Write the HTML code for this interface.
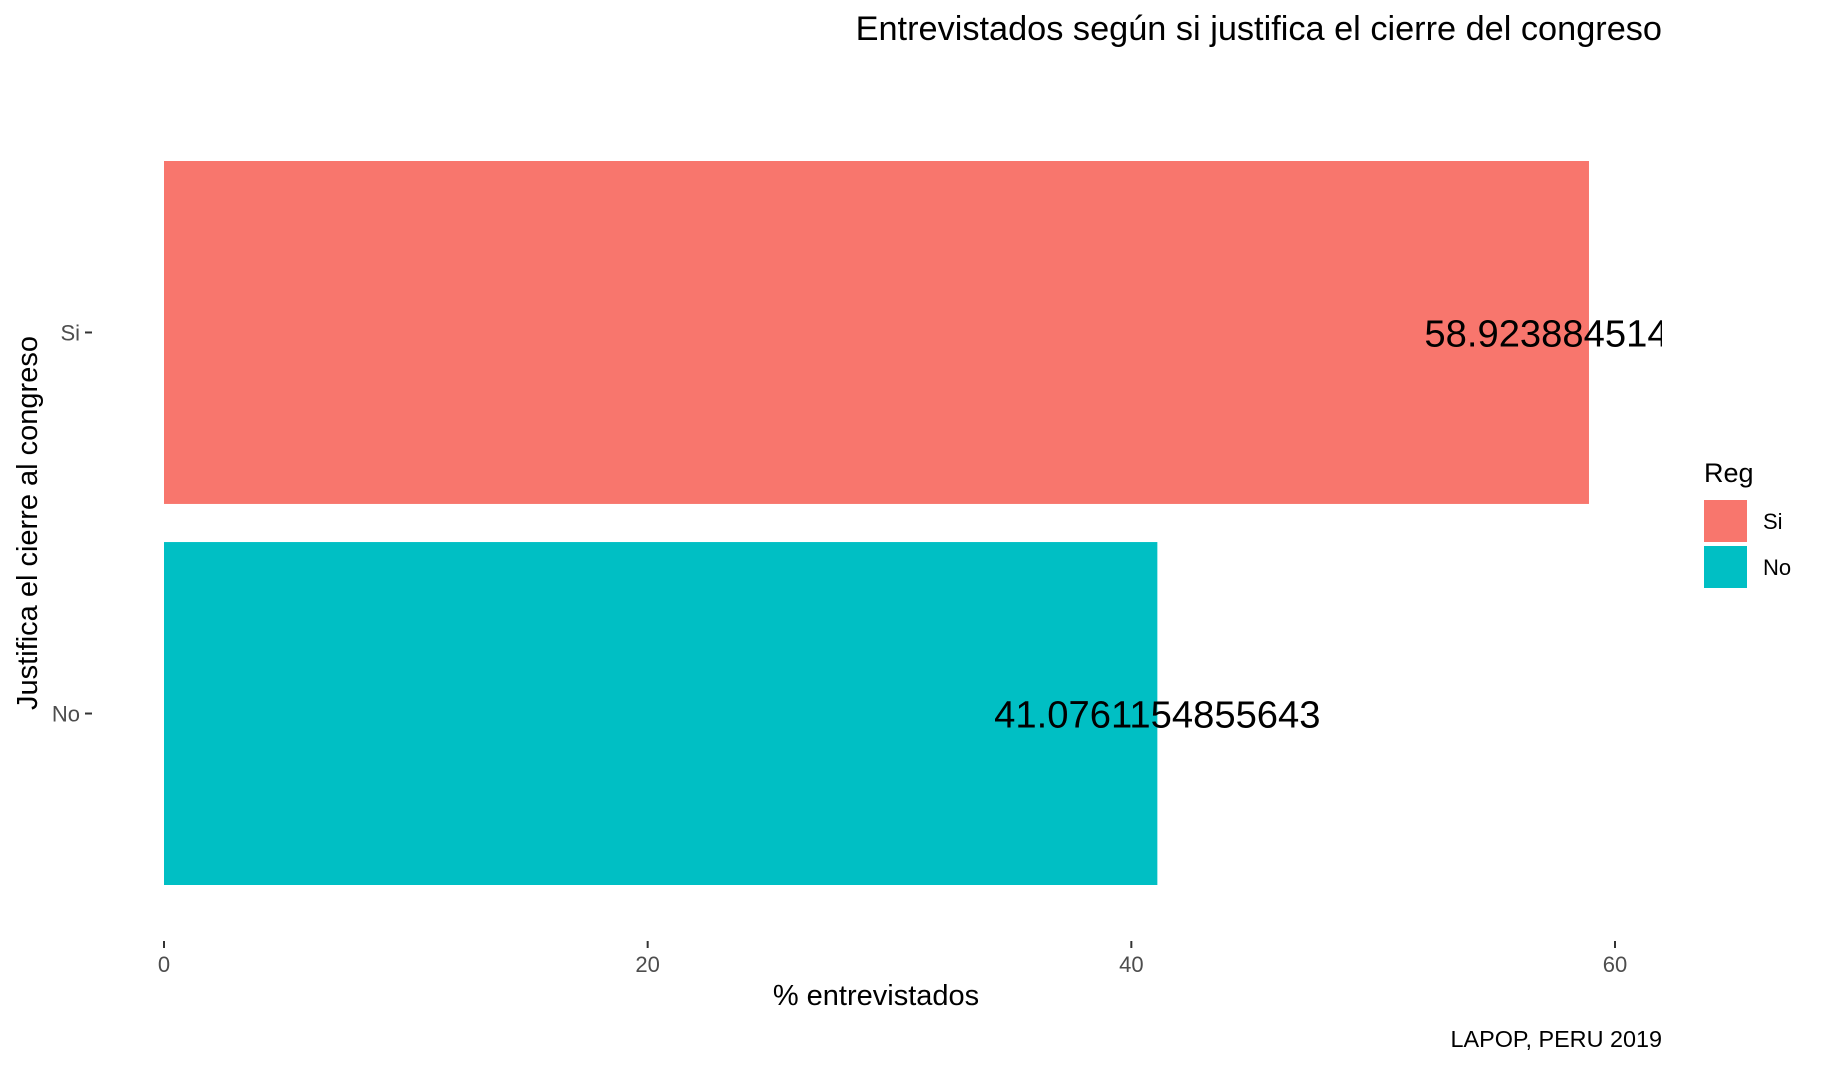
<!DOCTYPE html>
<html><head><meta charset="utf-8"><style>
html,body{margin:0;padding:0;background:#fff;}
svg{display:block;font-family:"Liberation Sans",Arial,sans-serif;}
</style></head><body>
<svg id="chart" width="1824" height="1065" viewBox="0 0 1824 1065" xmlns="http://www.w3.org/2000/svg">
<defs><clipPath id="panel-clip"><rect x="120" y="100" width="1542" height="850"/></clipPath></defs>
<text x="1662" y="40" text-anchor="end" font-size="34.3" fill="#000">Entrevistados según si justifica el cierre del congreso</text>
<g id="bars" clip-path="url(#panel-clip)"></g>
<g id="yaxis"></g>
<g id="xaxis"></g>
<text x="876" y="1005" text-anchor="middle" font-size="29" fill="#000">% entrevistados</text>
<text transform="translate(37,523) rotate(-90)" text-anchor="middle" font-size="29" fill="#000">Justifica el cierre al congreso</text>
<text x="1662" y="1047" text-anchor="end" font-size="23.4" fill="#000">LAPOP, PERU 2019</text>
<g id="legend">
<text x="1704" y="482" font-size="27" fill="#000">Reg</text>
</g>
</svg>
<script>
const categories = ["Si", "No"];
const values = [58.9238845144357, 41.0761154855643];
const labels = ["58.9238845144357", "41.0761154855643"];
const colors = ["#F8766D", "#00BFC4"];
const xTicks = [0, 20, 40, 60];

const NS = "http://www.w3.org/2000/svg";
const x0 = 164, xPerUnit = (1615 - 164) / 60;
function xScale(v){ return x0 + v * xPerUnit; }
const yTop = 161, yBottom = 885, bandCount = categories.length;
const step = (yBottom - yTop) / (bandCount - 0.1);
function yCenter(i){ return yTop + step * 0.45 + i * step; }
const barH = step * 0.9;

function mk(tag, attrs){ const e = document.createElementNS(NS, tag); for (const k in attrs) e.setAttribute(k, attrs[k]); return e; }

const gb = document.getElementById('bars');
categories.forEach((c, i) => {
  const r = mk('rect', {x: xScale(0), y: yCenter(i) - barH/2, width: xScale(values[i]) - xScale(0), height: barH, fill: colors[i]});
  
  
  gb.appendChild(r);
});
categories.forEach((c, i) => {
  const t = mk('text', {x: xScale(values[i]), y: yCenter(i) + 14, 'text-anchor': 'middle', 'font-size': 38.2, fill: '#000'});
  t.textContent = labels[i];
  
  
  gb.appendChild(t);
});

const gy = document.getElementById('yaxis');
categories.forEach((c, i) => {
  const yc = yCenter(i);
  const tk = mk('line', {x1: 85, x2: 92, y1: yc, y2: yc, stroke: '#333', 'stroke-width': 2});
  
  
  gy.appendChild(tk);
  const t = mk('text', {x: 80, y: yc + 8, 'text-anchor': 'end', 'font-size': 22, fill: '#4d4d4d'});
  t.textContent = c;
  
  
  gy.appendChild(t);
});

const gx = document.getElementById('xaxis');
xTicks.forEach(v => {
  const xx = xScale(v);
  const tk = mk('line', {x1: xx, x2: xx, y1: 941, y2: 948, stroke: '#333', 'stroke-width': 2});
  
  
  gx.appendChild(tk);
  const t = mk('text', {x: xx, y: 972, 'text-anchor': 'middle', 'font-size': 22, fill: '#4d4d4d'});
  t.textContent = v;
  
  
  gx.appendChild(t);
});

const gl = document.getElementById('legend');
categories.forEach((c, i) => {
  const ky = 500 + i * 46;
  const r = mk('rect', {x: 1704, y: ky, width: 43, height: 42, fill: colors[i]});
  
  
  gl.appendChild(r);
  const t = mk('text', {x: 1763, y: ky + 29, 'font-size': 22, fill: '#000'});
  t.textContent = c;
  
  
  gl.appendChild(t);
});
</script>
</body></html>
